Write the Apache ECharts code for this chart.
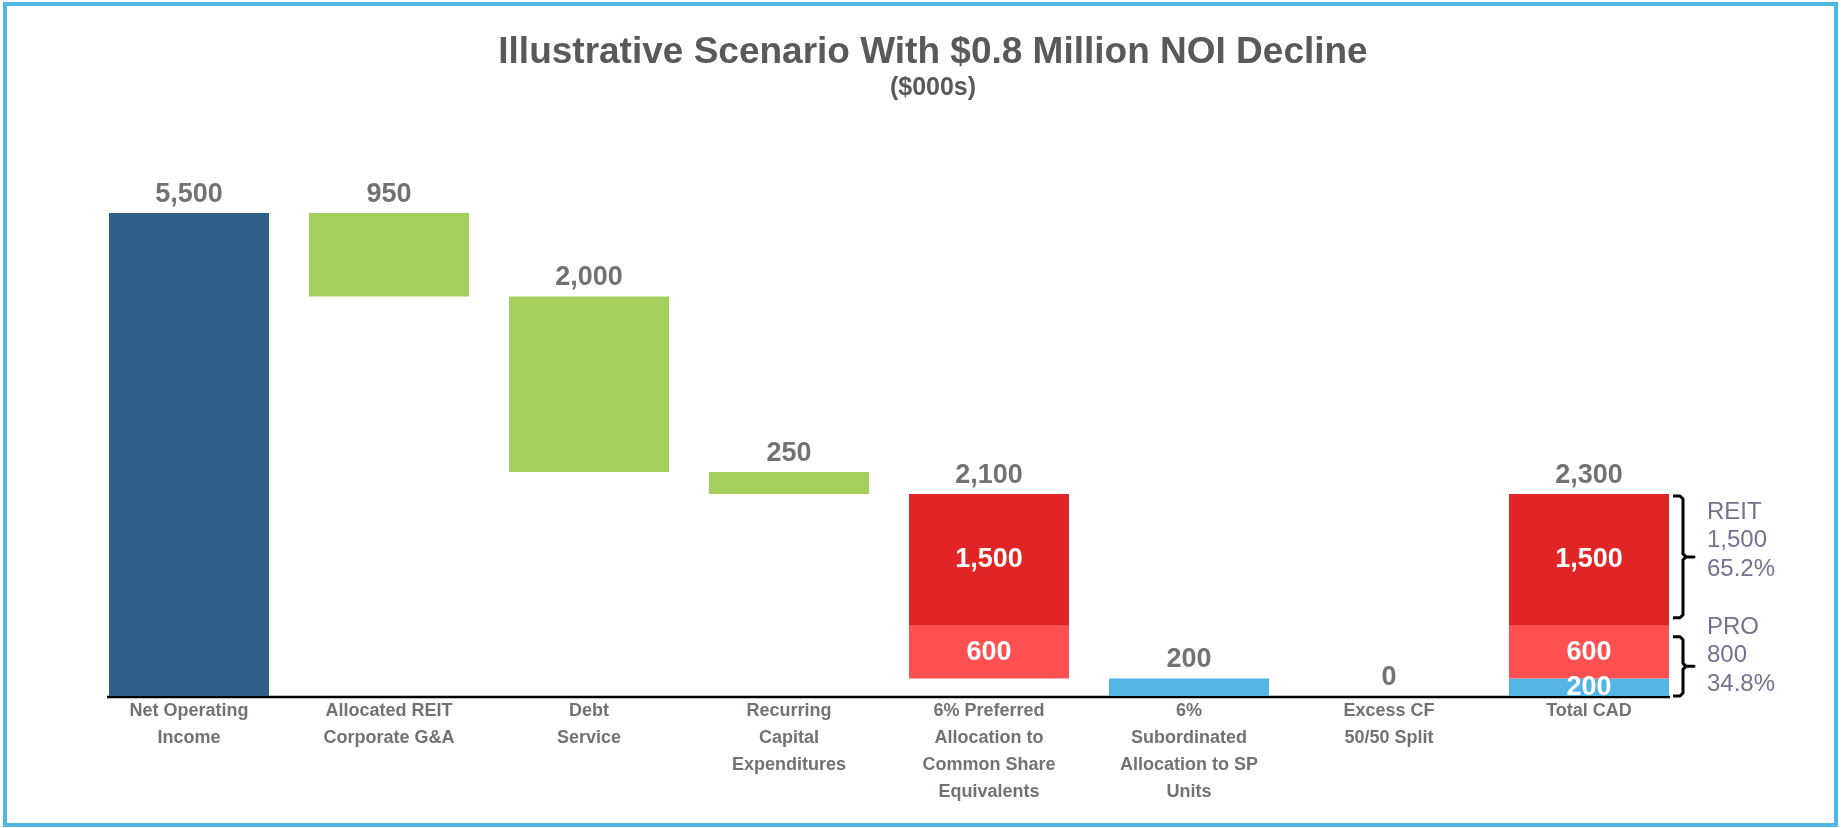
<!DOCTYPE html>
<html>
<head>
<meta charset="utf-8">
<title>Illustrative Scenario With $0.8 Million NOI Decline</title>
<script src="https://cdn.jsdelivr.net/npm/echarts@6/dist/echarts.min.js"></script>
<style>
  html, body { margin: 0; padding: 0; background: #ffffff; }
  #chart { width: 1841px; height: 828px; }
</style>
</head>
<body>
<div id="chart"></div>
<script>
  // waterfall, $000s
  const categories = [
    'Net Operating\nIncome',
    'Allocated REIT\nCorporate G&A',
    'Debt\nService',
    'Recurring\nCapital\nExpenditures',
    '6% Preferred\nAllocation to\nCommon Share\nEquivalents',
    '6%\nSubordinated\nAllocation to SP\nUnits',
    'Excess CF\n50/50 Split',
    'Total CAD'
  ];
  // invisible offset under the floating bars
  const baseValues = [0, 4550, 2550, 2300, 200, 0, 0, 0];
  const noiValues = [5500, '-', '-', '-', '-', '-', '-', '-'];
  const deductionValues = ['-', 950, 2000, 250, '-', '-', '-', '-'];
  const spValues = ['-', '-', '-', '-', '-', 200, 0, 200];
  const prefProValues = ['-', '-', '-', '-', 600, '-', '-', 600];
  const prefReitValues = ['-', '-', '-', '-', 1500, '-', '-', 1500];
  const totalLabels = [5500, 950, 2000, 250, 2100, 200, 0, 2300];

  const FONT = '"Liberation Sans", Arial, sans-serif';
  const BAR_W = 160;
  const lastIdx = categories.length - 1;
  const fmt = v => Number(v).toLocaleString('en-US');

  const insideLabel = {
    show: true,
    position: 'inside',
    color: '#ffffff',
    fontSize: 27,
    fontWeight: 'bold',
    fontFamily: FONT,
    formatter: p => fmt(p.value)
  };

  const chart = echarts.init(document.getElementById('chart'));

  chart.setOption({
    animation: false,
    backgroundColor: '#ffffff',
    title: {
      text: 'Illustrative Scenario With $0.8 Million NOI Decline',
      subtext: '($000s)',
      left: 928,
      top: 28,
      textAlign: 'center',
      itemGap: 1,
      textStyle: {
        color: '#595959',
        fontSize: 37,
        fontWeight: 'bold',
        fontFamily: FONT,
        lineHeight: 40
      },
      subtextStyle: {
        color: '#595959',
        fontSize: 25,
        fontWeight: 'bold',
        fontFamily: FONT,
        lineHeight: 28
      }
    },
    grid: {
      left: 89,
      right: 152,
      top: 213,
      bottom: 132,
      outerBoundsMode: 'none'
    },
    xAxis: {
      type: 'category',
      data: categories,
      axisTick: { show: false },
      // baseline is drawn below, only under the bars like the original
      axisLine: { show: false },
      axisLabel: {
        interval: 0,
        margin: 2,
        color: '#767171',
        fontSize: 18,
        fontWeight: 'bold',
        fontFamily: FONT,
        lineHeight: 27
      }
    },
    yAxis: {
      type: 'value',
      min: 0,
      max: 5500,
      show: false,
      splitLine: { show: false }
    },
    series: [
      {
        name: 'base',
        type: 'bar',
        stack: 'wf',
        barWidth: BAR_W,
        silent: true,
        itemStyle: { color: 'rgba(0,0,0,0)' },
        data: baseValues
      },
      {
        name: 'Net Operating Income',
        type: 'bar',
        stack: 'wf',
        barWidth: BAR_W,
        silent: true,
        itemStyle: { color: '#2E6089' },
        data: noiValues
      },
      {
        name: 'SP Units',
        type: 'bar',
        stack: 'wf',
        barWidth: BAR_W,
        silent: true,
        itemStyle: { color: '#53B5E5' },
        data: spValues.map((v, i) =>
          i === lastIdx ? { value: v, label: insideLabel } : v
        )
      },
      {
        name: 'Preferred PRO',
        type: 'bar',
        stack: 'wf',
        barWidth: BAR_W,
        silent: true,
        itemStyle: { color: '#FE5050' },
        label: insideLabel,
        data: prefProValues
      },
      {
        name: 'Preferred REIT',
        type: 'bar',
        stack: 'wf',
        barWidth: BAR_W,
        silent: true,
        itemStyle: { color: '#E12527' },
        label: insideLabel,
        data: prefReitValues
      },
      {
        name: 'Deductions',
        type: 'bar',
        stack: 'wf',
        barWidth: BAR_W,
        silent: true,
        itemStyle: { color: '#A4CF5F' },
        data: deductionValues
      },
      {
        // zero height, only carries the label on top of each stack
        name: 'total',
        type: 'bar',
        stack: 'wf',
        barWidth: BAR_W,
        silent: true,
        itemStyle: { color: 'rgba(0,0,0,0)' },
        label: {
          show: true,
          position: 'top',
          distance: 5,
          color: '#767171',
          fontSize: 27,
          fontWeight: 'bold',
          fontFamily: FONT,
          formatter: p => fmt(totalLabels[p.dataIndex])
        },
        data: categories.map(() => 0)
      }
    ]
  });

  // brackets + REIT / PRO split next to Total CAD
  const yPx = v => chart.convertToPixel({ yAxisIndex: 0 }, v);
  const xLeft = chart.convertToPixel({ xAxisIndex: 0 }, categories[0]) - BAR_W / 2;
  const xRight = chart.convertToPixel({ xAxisIndex: 0 }, categories[lastIdx]) + BAR_W / 2;

  const reitVal = prefReitValues[lastIdx];
  const proVal = prefProValues[lastIdx] + spValues[lastIdx];
  const totalVal = reitVal + proVal;
  const pct = v => (v / totalVal * 100).toFixed(1) + '%';

  const brace = (yt, yb) => {
    const x0 = xRight + 4, x1 = xRight + 14, x2 = xRight + 25;
    const ym = (yt + yb) / 2;
    return {
      type: 'polyline',
      silent: true,
      shape: {
        points: [
          [x0, yt], [x1 - 3, yt], [x1, yt + 3], [x1, ym - 3], [x1 + 3, ym], [x2, ym],
          [x1 + 3, ym], [x1, ym + 3], [x1, yb - 3], [x1 - 3, yb], [x0, yb]
        ]
      },
      style: { stroke: '#000000', lineWidth: 3, fill: null, lineJoin: 'round' }
    };
  };

  const splitText = (lines, y) => ({
    type: 'text',
    silent: true,
    x: xRight + 38,
    y: y,
    style: {
      text: lines.join('\n'),
      font: '24px ' + FONT,
      fill: '#777191',
      lineHeight: 28.5,
      verticalAlign: 'top'
    }
  });

  const y2300 = yPx(totalVal);
  const y800 = yPx(proVal);
  const y0 = yPx(0);

  chart.setOption({
    graphic: [
      {
        type: 'rect',
        silent: true,
        shape: { x: 5, y: 4, width: 1831, height: 821 },
        style: { fill: null, stroke: '#4DB7E6', lineWidth: 4 }
      },
      {
        type: 'line',
        silent: true,
        shape: { x1: xLeft - 2, y1: y0 + 1, x2: xRight + 1, y2: y0 + 1 },
        style: { stroke: '#000000', lineWidth: 2.5 }
      },
      brace(y2300 + 2, y800 - 8),
      brace(y800 + 11, y0),
      splitText(['REIT', fmt(reitVal), pct(reitVal)], y2300 + 4),
      splitText(['PRO', fmt(proVal), pct(proVal)], y800 - 13)
    ]
  });

  window.addEventListener('resize', function () {
    chart && chart.resize();
  });
</script>
</body>
</html>
